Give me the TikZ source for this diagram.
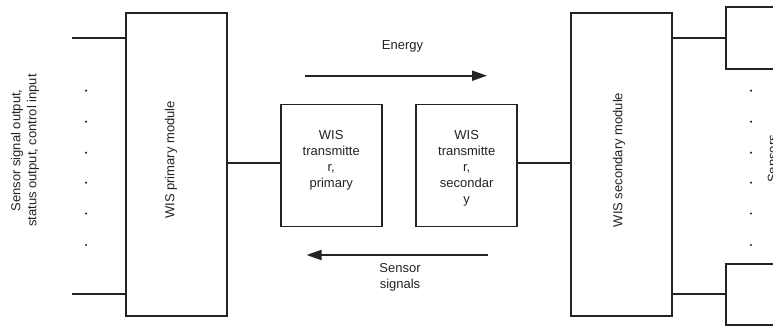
\documentclass[tikz,border=0pt]{standalone}
\usepackage{fontspec}
\setmainfont{Liberation Sans}
\usetikzlibrary{arrows.meta}
\definecolor{ink}{HTML}{232323}
\tikzset{
  blk/.style={draw=ink, line width=1.9pt, fill=white, inner sep=0pt},
  conn/.style={draw=ink, line width=1.9pt},
  flow/.style={draw=ink, line width=1.9pt, -{Triangle[length=15pt,width=10pt]}},
  lbl/.style={text=ink, font=\fontsize{13}{16}\selectfont, inner sep=0pt, align=center},
  dotmark/.style={fill=ink, draw=none}
}
\begin{document}
\begin{tikzpicture}[x=1pt,y=-1pt]
\useasboundingbox (0,0) rectangle (773,326);
\clip (0,0) rectangle (773,326);
\fill[white] (0,0) rectangle (773,326);

% main blocks
\node[blk, minimum width=101pt, minimum height=303pt] (pm) at (176.2,164.7) {};
\node[blk, minimum width=101pt, minimum height=122pt] (tp) at (331.2,165.5) {};
\node[blk, minimum width=101pt, minimum height=122pt] (ts) at (466.7,165.5) {};
\node[blk, minimum width=101pt, minimum height=303pt] (sm) at (621.5,164.7) {};
\node[blk, minimum width=110pt, minimum height=61.7pt] (s1) at (780.7,38.2) {};
\node[blk, minimum width=110pt, minimum height=61pt] (s2) at (780.7,294.5) {};

% texts
\node[lbl, rotate=90] (pmt) at (171,160) {WIS primary module};
\node[lbl, rotate=90] (smt) at (619,160) {WIS secondary module};
\node[lbl, anchor=north] (tpt) at (331.2,130) {WIS\\transmitte\\r,\\primary};
\node[lbl, anchor=north] (tst) at (466.7,130) {WIS\\transmitte\\r,\\secondar\\y};
\node[lbl, rotate=90] (io) at (25,150.5) {Sensor signal output,\\status output, control input};
\node[lbl, rotate=90, anchor=north] (sens) at (767.5,159) {Sensors};
\node[lbl] (en) at (402.5,46.5) {Energy};
\node[lbl] (ss) at (400,277.5) {Sensor\\signals};

% free ends of the input/output lines
\coordinate (i1) at (71.7,38.3);
\coordinate (i2) at (71.7,294.3);
\coordinate (o1) at (672,37.7);
\coordinate (o2) at (672,294.3);

% connectors
\draw[conn] (i1) -- (i1 -| pm.west);
\draw[conn] (i2) -- (i2 -| pm.west);
\draw[conn] (pm.east |- 0,163) -- (tp.west |- 0,163);
\draw[conn] (ts.east |- 0,163) -- (sm.west |- 0,163);
\draw[conn] (sm.east |- o1) -- (o1 -| s1.west);
\draw[conn] (sm.east |- o2) -- (o2 -| s2.west);

% flow arrows
\coordinate (e1) at (305,75.7);
\coordinate (e2) at (487,75.7);
\coordinate (r1) at (487.7,255);
\coordinate (r2) at (306.5,255);
\draw[flow] (e1) -- (e2);
\draw[flow] (r1) -- (r2);

% dots
\foreach \yy in {90.7,121.7,152.7,182.7,213.5,245} {
  \fill[dotmark] (86,\yy) circle (1.2pt);
  \fill[dotmark] (751,\yy) circle (1.2pt);
}
\end{tikzpicture}
\end{document}
